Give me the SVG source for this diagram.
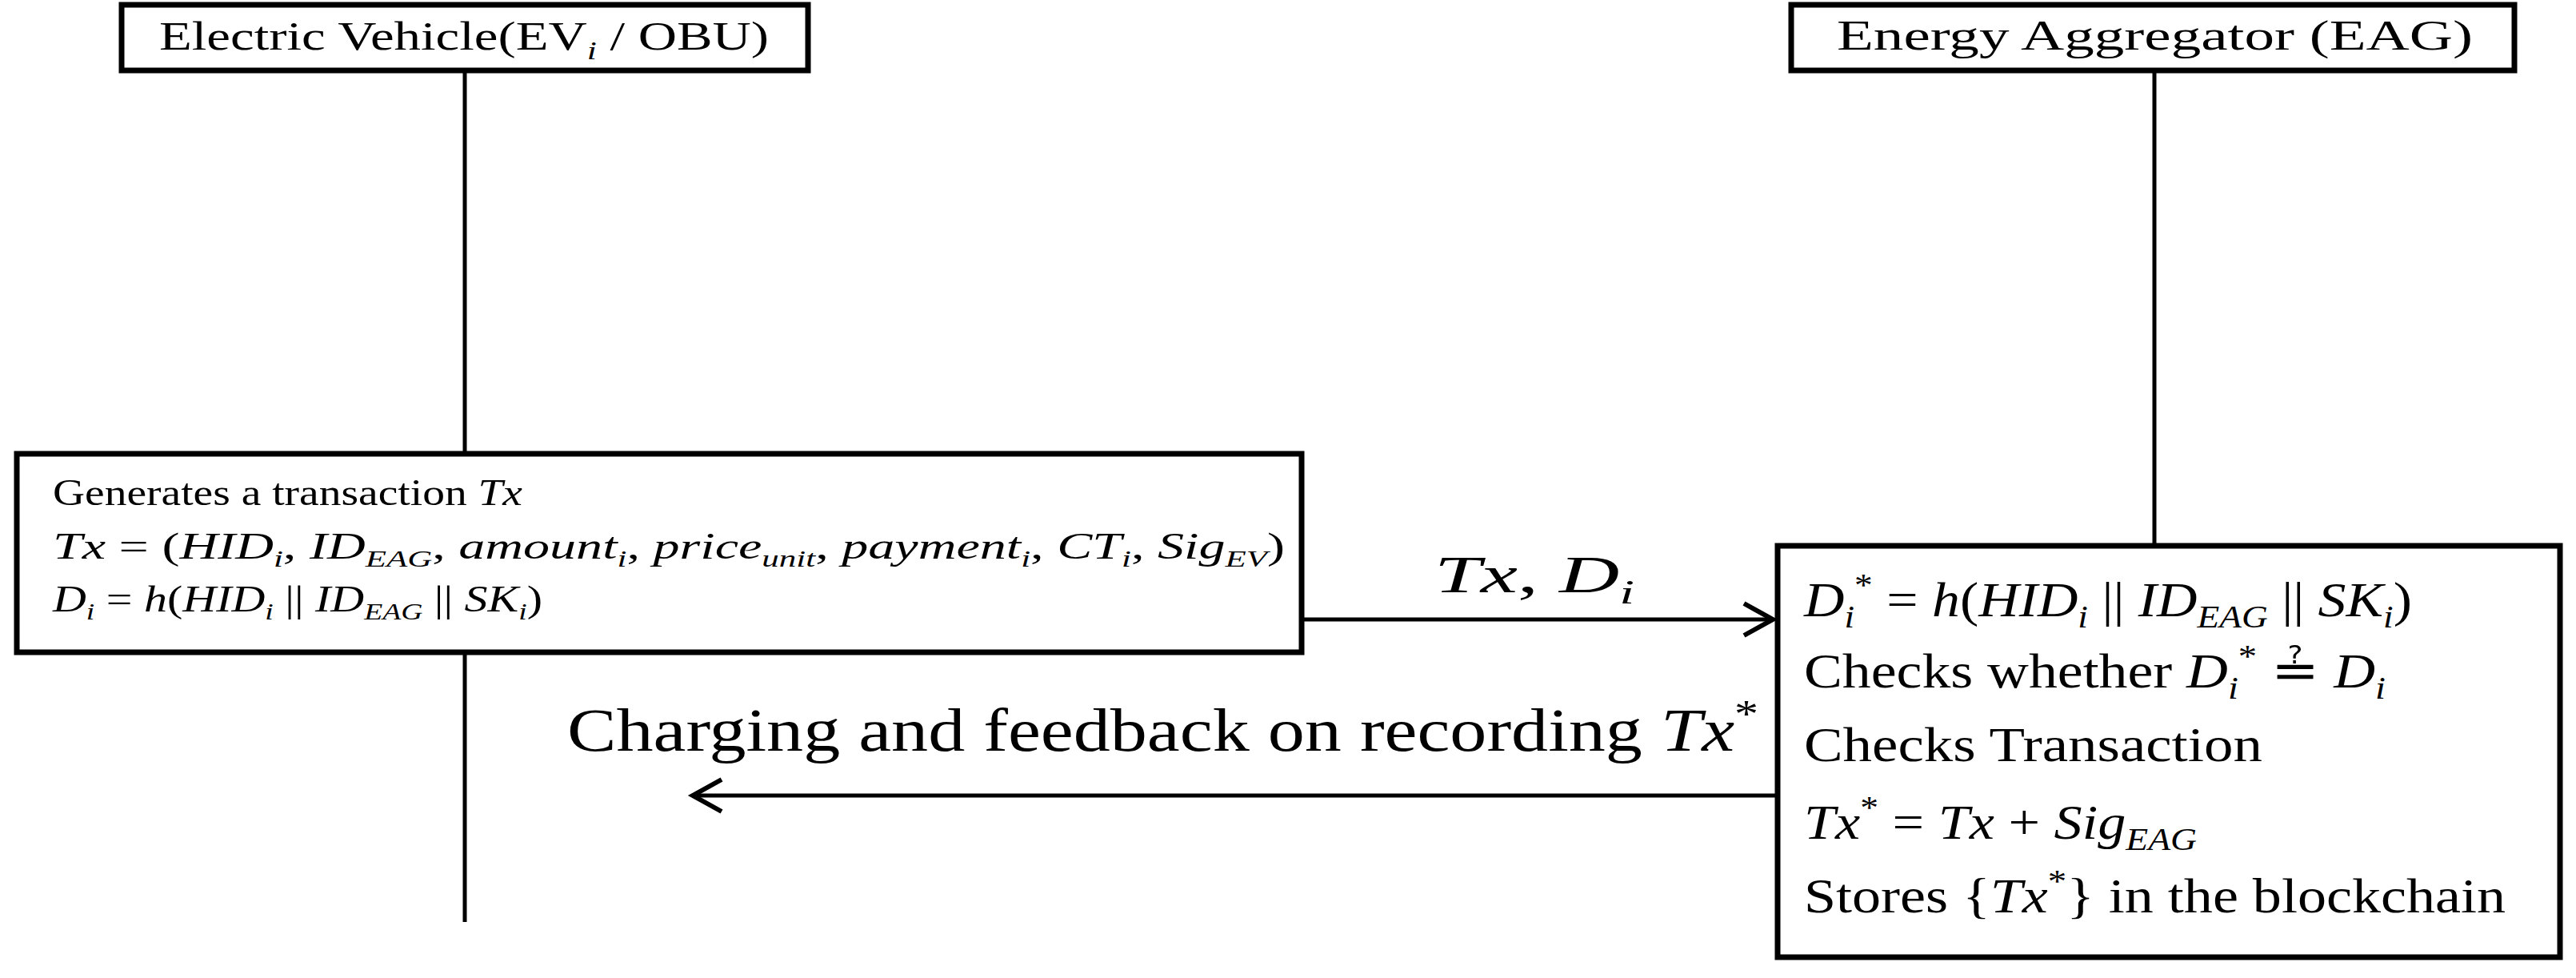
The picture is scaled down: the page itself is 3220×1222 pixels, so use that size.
<svg xmlns="http://www.w3.org/2000/svg" width="3220" height="1222" viewBox="0 0 3220 1222">
<style>
text{font-family:"Liberation Serif","Times New Roman",serif;fill:#000}
.i{font-style:italic}
.s{font-size:65%}
.box{fill:#fff;stroke:#000;stroke-width:7}
.ln{stroke:#000;stroke-width:5;fill:none}
</style>
<defs>
<marker id="ah" viewBox="0 0 20 20" refX="18" refY="10" markerWidth="40" markerHeight="40" markerUnits="userSpaceOnUse" orient="auto" style="overflow:visible">
<path d="M0,0 L18,10 L0,20" fill="none" stroke="#000" stroke-width="3"/>
</marker>
</defs>
<g id="connectors">
<line class="ln" x1="581" y1="90" x2="581" y2="567"/>
<line class="ln" x1="581" y1="815" x2="581" y2="1152"/>
<line class="ln" x1="2693" y1="90" x2="2693" y2="682"/>
<line class="ln" x1="1627" y1="774" x2="2216" y2="774" marker-end="url(#ah)"/>
<line class="ln" x1="2222" y1="994" x2="866" y2="994" marker-end="url(#ah)"/>
<text x="1793" y="740" font-size="66" textLength="250" lengthAdjust="spacingAndGlyphs"><tspan class="i">Tx</tspan>, <tspan class="i">D</tspan><tspan class="i s" dy="14">i</tspan></text>
<text x="709" y="938" font-size="76" textLength="1489" lengthAdjust="spacingAndGlyphs">Charging and feedback on recording <tspan class="i">Tx</tspan><tspan class="s" dy="-30">*</tspan></text>
</g>
<g id="ev">
<rect class="box" x="152" y="6" width="858" height="82"/>
<text x="199" y="62" font-size="50" textLength="762" lengthAdjust="spacingAndGlyphs">Electric Vehicle(EV<tspan class="i s" dy="12">i</tspan><tspan dy="-12"> / OBU)</tspan></text>
</g>
<g id="eag">
<rect class="box" x="2239" y="6" width="904" height="82"/>
<text x="2296" y="62" font-size="52" textLength="795" lengthAdjust="spacingAndGlyphs">Energy Aggregator (EAG)</text>
</g>
<g id="ev-step">
<rect class="box" x="21" y="567" width="1606" height="248"/>
<text x="66" y="631" font-size="46" textLength="587" lengthAdjust="spacingAndGlyphs">Generates a transaction <tspan class="i">Tx</tspan></text>
<text x="66" y="698" font-size="46" textLength="1540" lengthAdjust="spacingAndGlyphs"><tspan class="i">Tx</tspan> = (<tspan class="i">HID</tspan><tspan class="i s" dy="10">i</tspan><tspan dy="-10">, </tspan><tspan class="i">ID</tspan><tspan class="i s" dy="10">EAG</tspan><tspan dy="-10">, </tspan><tspan class="i">amount</tspan><tspan class="i s" dy="10">i</tspan><tspan dy="-10">, </tspan><tspan class="i">price</tspan><tspan class="i s" dy="10">unit</tspan><tspan dy="-10">, </tspan><tspan class="i">payment</tspan><tspan class="i s" dy="10">i</tspan><tspan dy="-10">, </tspan><tspan class="i">CT</tspan><tspan class="i s" dy="10">i</tspan><tspan dy="-10">, </tspan><tspan class="i">Sig</tspan><tspan class="i s" dy="10">EV</tspan><tspan dy="-10">)</tspan></text>
<text x="66" y="764" font-size="46" textLength="612" lengthAdjust="spacingAndGlyphs"><tspan class="i">D</tspan><tspan class="i s" dy="10">i</tspan><tspan dy="-10"> = </tspan><tspan class="i">h</tspan>(<tspan class="i">HID</tspan><tspan class="i s" dy="10">i</tspan><tspan dy="-10"> || </tspan><tspan class="i">ID</tspan><tspan class="i s" dy="10">EAG</tspan><tspan dy="-10"> || </tspan><tspan class="i">SK</tspan><tspan class="i s" dy="10">i</tspan><tspan dy="-10">)</tspan></text>
</g>
<g id="eag-step">
<rect class="box" x="2222" y="682" width="978" height="514"/>
<text x="2255" y="770" font-size="62" textLength="760" lengthAdjust="spacingAndGlyphs"><tspan class="i">D</tspan><tspan class="i s" dy="14">i</tspan><tspan class="s" dy="-40">*</tspan><tspan dy="26"> = </tspan><tspan class="i">h</tspan>(<tspan class="i">HID</tspan><tspan class="i s" dy="14">i</tspan><tspan dy="-14"> || </tspan><tspan class="i">ID</tspan><tspan class="i s" dy="14">EAG</tspan><tspan dy="-14"> || </tspan><tspan class="i">SK</tspan><tspan class="i s" dy="14">i</tspan><tspan dy="-14">)</tspan></text>
<text x="2255" y="859" font-size="62" textLength="727" lengthAdjust="spacingAndGlyphs">Checks whether <tspan class="i">D</tspan><tspan class="i s" dy="14">i</tspan><tspan class="s" dy="-40">*</tspan><tspan dy="26"> ≟ </tspan><tspan class="i">D</tspan><tspan class="i s" dy="14">i</tspan></text>
<text x="2255" y="951" font-size="62" textLength="573" lengthAdjust="spacingAndGlyphs">Checks Transaction</text>
<text x="2255" y="1048" font-size="62" textLength="491" lengthAdjust="spacingAndGlyphs"><tspan class="i">Tx</tspan><tspan class="s" dy="-26">*</tspan><tspan dy="26"> = </tspan><tspan class="i">Tx</tspan> + <tspan class="i">Sig</tspan><tspan class="i s" dy="14">EAG</tspan></text>
<text x="2255" y="1140" font-size="62" textLength="877" lengthAdjust="spacingAndGlyphs">Stores {<tspan class="i">Tx</tspan><tspan class="s" dy="-26">*</tspan><tspan dy="26">} in the blockchain</tspan></text>
</g>
</svg>
